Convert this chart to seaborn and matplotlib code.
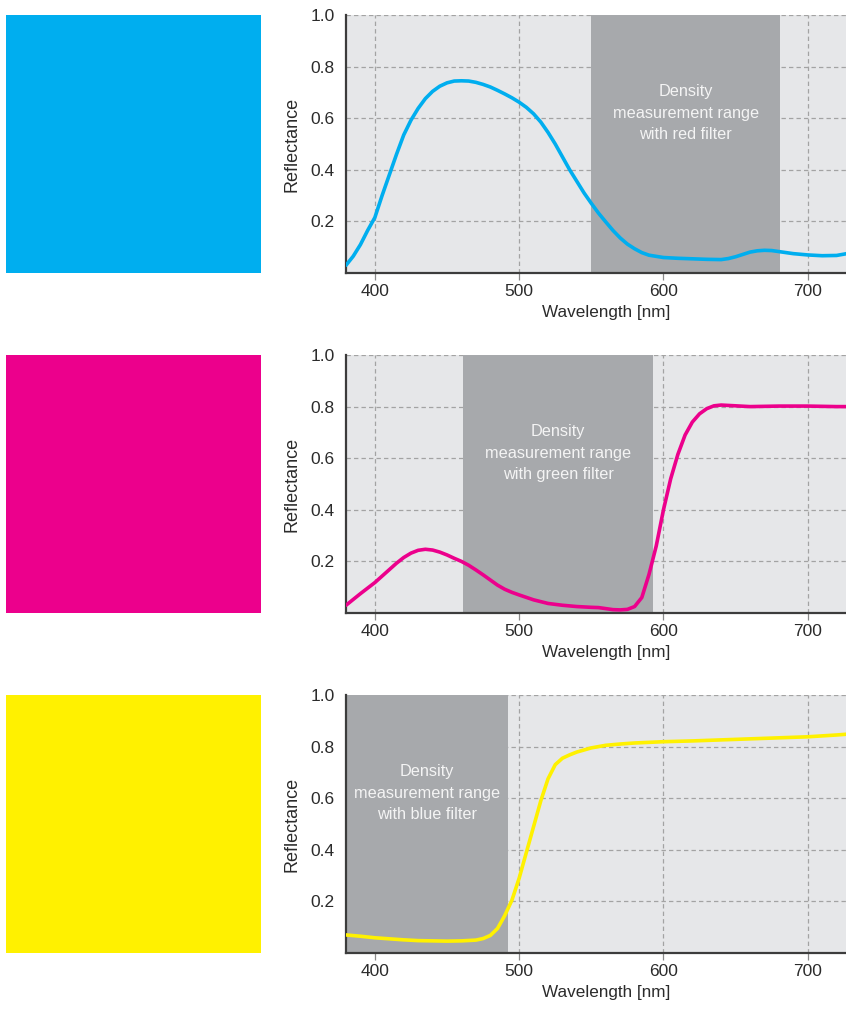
import numpy as np
import pandas as pd
import matplotlib
matplotlib.use("Agg")
import matplotlib.pyplot as plt
from matplotlib.patches import Rectangle
import seaborn as sns

# ---- spectral reflectance readings (wavelength in nm, reflectance 0..1) ----
cyan_wl = [380, 385, 390, 395, 400, 405, 410, 415, 420, 425, 430, 435, 440, 445,
           450, 455, 460, 465, 470, 475, 480, 485, 490, 495, 500, 505, 510, 515,
           520, 525, 530, 535, 540, 545, 550, 555, 560, 565, 570, 575, 580, 585,
           590, 600, 610, 620, 630, 640, 645, 650, 655, 660, 665, 670, 675, 680,
           690, 700, 710, 720, 727]
cyan_r = [0.030, 0.065, 0.110, 0.165, 0.215, 0.300, 0.380, 0.460, 0.535, 0.592,
          0.638, 0.676, 0.704, 0.724, 0.737, 0.744, 0.745, 0.744, 0.739, 0.731,
          0.721, 0.708, 0.694, 0.679, 0.662, 0.642, 0.617, 0.585, 0.545, 0.500,
          0.450, 0.400, 0.355, 0.310, 0.270, 0.232, 0.198, 0.165, 0.136, 0.112,
          0.094, 0.079, 0.069, 0.060, 0.057, 0.055, 0.053, 0.052, 0.056, 0.063,
          0.072, 0.081, 0.086, 0.088, 0.087, 0.083, 0.075, 0.070, 0.067, 0.068,
          0.075]

magenta_wl = [380, 390, 400, 410, 415, 420, 425, 430, 435, 440, 445, 450, 455,
              460, 465, 470, 475, 480, 485, 490, 495, 500, 510, 520, 530, 540,
              550, 555, 560, 565, 570, 575, 580, 585, 590, 595, 600, 605, 610,
              615, 620, 625, 630, 635, 640, 650, 660, 670, 680, 690, 700, 710,
              720, 727]
magenta_r = [0.030, 0.075, 0.118, 0.168, 0.193, 0.215, 0.232, 0.243, 0.247,
             0.244, 0.236, 0.225, 0.212, 0.200, 0.185, 0.167, 0.148, 0.128,
             0.108, 0.092, 0.080, 0.070, 0.051, 0.037, 0.030, 0.025, 0.022,
             0.021, 0.017, 0.013, 0.012, 0.014, 0.025, 0.060, 0.150, 0.260,
             0.400, 0.520, 0.615, 0.690, 0.740, 0.772, 0.792, 0.803, 0.806,
             0.803, 0.800, 0.801, 0.802, 0.802, 0.802, 0.801, 0.800, 0.800]

yellow_wl = [380, 390, 400, 410, 420, 430, 440, 450, 460, 470, 475, 480, 485,
             490, 495, 500, 505, 510, 515, 520, 525, 530, 535, 540, 550, 560,
             570, 580, 600, 620, 640, 660, 680, 700, 720, 727]
yellow_r = [0.070, 0.065, 0.059, 0.055, 0.051, 0.048, 0.047, 0.046, 0.047,
            0.050, 0.056, 0.068, 0.095, 0.145, 0.205, 0.290, 0.390, 0.490,
            0.590, 0.675, 0.730, 0.755, 0.768, 0.779, 0.795, 0.805, 0.810,
            0.814, 0.819, 0.822, 0.826, 0.830, 0.834, 0.838, 0.845, 0.848]

# filter measurement ranges (nm)
red_range = (550, 681)
green_range = (461, 593)
blue_range = (380, 492.5)

range_labels = ["Density\nmeasurement range\nwith red filter",
                "Density\nmeasurement range\nwith green filter",
                "Density\nmeasurement range\nwith blue filter"]

ink_colors = ["#00aeef", "#ec008c", "#fff100"]
x_ticks = [400, 500, 600, 700]
y_ticks = [0.2, 0.4, 0.6, 0.8, 1.0]
y_ticklabels = ["0.2", "0.4", "0.6", "0.8", "1.0"]

panels = [
    (cyan_wl, cyan_r, red_range, range_labels[0], ink_colors[0]),
    (magenta_wl, magenta_r, green_range, range_labels[1], ink_colors[1]),
    (yellow_wl, yellow_r, blue_range, range_labels[2], ink_colors[2]),
]

sns.set_theme(style="white")
plt.rcParams["font.family"] = ["Liberation Sans", "DejaVu Sans"]

W, H = 846, 1010
fig = plt.figure(figsize=(W / 100, H / 100), dpi=100)
fig.patch.set_facecolor("white")

panel_tops = [15, 355, 695]
panel_h = 258
ax_left, ax_right = 346, 846

for (wl, refl, frange, label, color), top in zip(panels, panel_tops):
    bottom = top + panel_h
    # colour swatch
    fig.patches.append(Rectangle((6 / W, 1 - bottom / H), 255 / W, panel_h / H,
                                 transform=fig.transFigure, facecolor=color,
                                 edgecolor="none"))

    ax = fig.add_axes([ax_left / W, 1 - bottom / H,
                       (ax_right - ax_left) / W, panel_h / H])
    ax.set_facecolor("#e6e7e9")
    ax.set_axisbelow(True)
    ax.grid(True, color="#a3a3a3", linestyle=(0, (3.5, 2.5)), linewidth=0.9)

    ax.axvspan(frange[0], frange[1], ymin=0, ymax=1, color="#a7a9ac",
               linewidth=0, zorder=1)
    ax.text((frange[0] + frange[1]) / 2, 0.62, label, ha="center", va="center",
            color="#f4f4f4", fontsize=11.7, linespacing=1.55, zorder=2)

    df = pd.DataFrame({"Wavelength": wl, "Reflectance": refl})
    sns.lineplot(data=df, x="Wavelength", y="Reflectance", ax=ax, color=color,
                 linewidth=2.6, zorder=3)

    ax.set_xlim(380, 726.5)
    ax.set_ylim(0, 1.0)
    ax.set_xticks(x_ticks)
    ax.set_yticks(y_ticks)
    ax.set_yticklabels(y_ticklabels)

    for side in ("top", "right"):
        ax.spines[side].set_visible(False)
    for side in ("left", "bottom"):
        ax.spines[side].set_color("#3c3c3c")
        ax.spines[side].set_linewidth(1.6)

    ax.tick_params(axis="x", direction="out", length=5, width=0.9,
                   color="#8a8a8a", pad=3, labelsize=12.5, labelcolor="#2b2b2b",
                   bottom=True)
    ax.tick_params(axis="y", length=0, pad=8, labelsize=12.5,
                   labelcolor="#2b2b2b", left=True)

    ax.set_xlabel("Wavelength [nm]", fontsize=12.3, color="#2b2b2b", labelpad=4)
    ax.xaxis.label.set_x(0.52)
    ax.set_ylabel("Reflectance", fontsize=13, color="#2b2b2b", labelpad=7)

fig.savefig("out.png", dpi=100, facecolor="white")
